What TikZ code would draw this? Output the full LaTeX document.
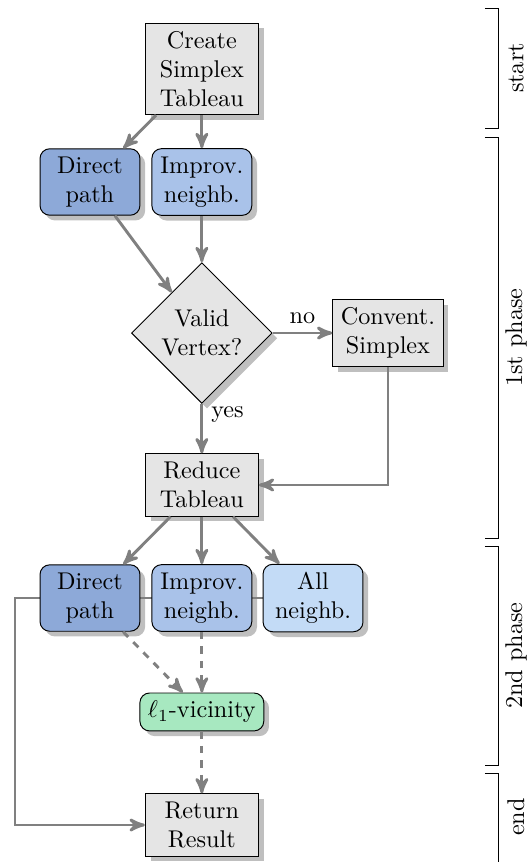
\documentclass[tikz,border=0pt]{standalone}
\usepackage{amsmath}
\usetikzlibrary{arrows,shapes.geometric,shadows,backgrounds}
\definecolor{pathblue}{HTML}{8DA9D8}
\definecolor{improvblue}{HTML}{A9C2E9}
\definecolor{allblue}{HTML}{C3DBF6}
\definecolor{vicgreen}{HTML}{A7E8C0}
\tikzset{
  box/.style={draw,fill=gray!20,drop shadow,align=center,minimum width=1.64cm},
  rbox/.style={draw,rounded corners=4pt,drop shadow,align=center,minimum width=1.45cm},
  decision/.style={draw,diamond,aspect=1,fill=gray!20,drop shadow,align=center,inner sep=1.4pt},
  flow/.style={very thick,gray,->,>=stealth'},
  dflow/.style={flow,dashed},
  phase/.style={thin}
}

\begin{document}
\begin{tikzpicture}
            \useasboundingbox (0,0) rectangle (7.708,-12.513);
            % start
            \node[box] (create) at (2.93,-1.0) {Create\\Simplex\\Tableau};
            % 1st phase
            \node[rbox,fill=pathblue] (direct1) at (1.306,-2.642) {Direct\\path};
            \node[rbox,fill=improvblue] (improv1) at (2.93,-2.642) {Improv.\\neighb.};
            \node[decision] (valid) at (2.93,-4.834) {Valid\\Vertex?};
            \node[box,minimum width=0cm] (convent) at (5.632,-4.834) {Convent.\\Simplex};
            \node[box] (reduce) at (2.93,-7.04) {Reduce\\Tableau};
            % 2nd phase
            \node[rbox,fill=pathblue] (direct2) at (1.306,-8.681) {Direct\\path};
            \node[rbox,fill=improvblue] (improv2) at (2.93,-8.681) {Improv.\\neighb.};
            \node[rbox,fill=allblue] (alln) at (4.544,-8.681) {All\\neighb.};
            \node[rbox,fill=vicgreen,minimum width=0cm] (vicinity) at (2.93,-10.335) {$\ell_1$-vicinity};
            % end
            \node[box] (result) at (2.93,-11.976) {Return\\Result};

            \draw[flow] (create) -- (direct1);
            \draw[flow] (create) -- (improv1);
            \draw[flow] (direct1) -- (valid);
            \draw[flow] (improv1) -- (valid);
            \draw[flow] (valid) -- node[above,black]{no} (convent);
            \draw[flow] (valid) -- node[right,black,pos=0.22]{yes} (reduce);
            \draw[flow] (convent) |- (reduce);
            \draw[flow] (reduce) -- (direct2);
            \draw[flow] (reduce) -- (improv2);
            \draw[flow] (reduce) -- (alln);
            \draw[dflow] (direct2) -- (vicinity);
            \draw[dflow] (improv2) -- (vicinity);
            \draw[dflow] (vicinity) -- (result);
            \begin{pgfonlayer}{background}
                \coordinate (corner) at (0.218,-8.681);
                \draw[flow] (alln.center) -- (corner) |- (result);
            \end{pgfonlayer}

            % phase brackets
            \draw[phase] (7.04,-0.116) -- (7.229,-0.116) -- (7.229,-1.858) -- (7.04,-1.858);
            \node[rotate=90] (startlbl) at (7.49,-0.987) {start};
            \draw[phase] (7.04,-1.989) -- (7.229,-1.989) -- (7.229,-7.81) -- (7.04,-7.81);
            \node[rotate=90] (firstlbl) at (7.49,-4.9) {1st phase};
            \draw[phase] (7.04,-7.926) -- (7.229,-7.926) -- (7.229,-11.105) -- (7.04,-11.105);
            \node[rotate=90] (secondlbl) at (7.49,-9.515) {2nd phase};
            \draw[phase] (7.04,-11.221) -- (7.229,-11.221) -- (7.229,-12.513);
            \node[rotate=90] (endlbl) at (7.49,-11.86) {end};
        \end{tikzpicture}
\end{document}
